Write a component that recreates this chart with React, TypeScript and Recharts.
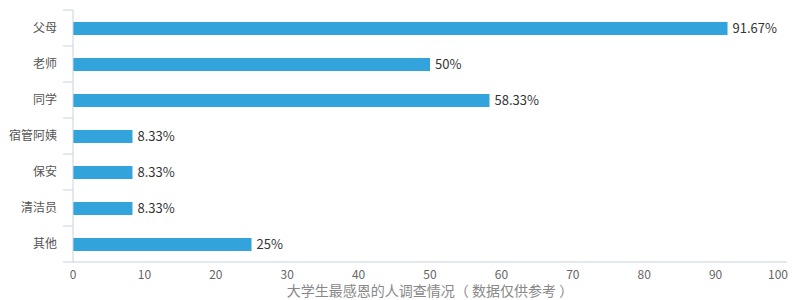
import React from 'react'
import { BarChart, Bar, XAxis, YAxis, LabelList, Label } from 'recharts'

const categories = ['父母', '老师', '同学', '宿管阿姨', '保安', '清洁员', '其他']
const values = [91.67, 50, 58.33, 8.33, 8.33, 8.33, 25]
const xTicks = [0, 10, 20, 30, 40, 50, 60, 70, 80, 90, 100]

const data = categories.map((name, i) => ({ name, value: values[i] }))

const FONT = '"Microsoft YaHei", "Noto Sans CJK SC", sans-serif'
const AXIS = '#c7d2e0'
const WIDTH = 800
const HEIGHT = 300
const MARGIN = { top: 10, right: 13, left: 0, bottom: 0 }
const X_HEIGHT = 38
const BAND = (HEIGHT - MARGIN.top - MARGIN.bottom - X_HEIGHT) / categories.length

// 类目轴的刻度线画在分隔处，不在中间
const YTick = (props: any) => {
  const { x, y, payload, index } = props
  const axisX = x + 16
  return (
    <g>
      <line x1={axisX - 10} x2={axisX} y1={y - BAND / 2} y2={y - BAND / 2} stroke={AXIS} />
      {index === categories.length - 1 && (
        <line x1={axisX - 10} x2={axisX} y1={y + BAND / 2} y2={y + BAND / 2} stroke={AXIS} />
      )}
      <text x={x} y={y} dy="0.35em" textAnchor="end" fill="#555" fontSize={12} fontFamily={FONT}>
        {payload.value}
      </text>
    </g>
  )
}

// 最后一个刻度标签往里收，不超出画布
const XTick = (props: any) => {
  const { x, y, payload, index } = props
  const last = index === xTicks.length - 1
  return (
    <text
      x={last ? x + 1 : x}
      y={y}
      dy="0.71em"
      textAnchor={last ? 'end' : 'middle'}
      fill="#666"
      fontSize={12}
      fontFamily={FONT}
    >
      {payload.value}
    </text>
  )
}

const App = () => {
  return (
    <div style={{ position: 'absolute', left: 0, top: 0 }}>
      <BarChart width={WIDTH} height={HEIGHT} data={data} layout="vertical" margin={MARGIN}>
        <XAxis
          type="number"
          domain={[0, 100]}
          ticks={xTicks}
          interval={0}
          height={X_HEIGHT}
          tickLine={false}
          axisLine={{ stroke: AXIS }}
          tick={<XTick />}
        >
          <Label
            value="大学生最感恩的人调查情况（ 数据仅供参考 ）"
            position="insideBottom"
            offset={4}
            fill="#888"
            fontSize={14}
            fontFamily={FONT}
          />
        </XAxis>
        <YAxis
          type="category"
          dataKey="name"
          width={73}
          tickLine={false}
          tickSize={8}
          tickMargin={8}
          axisLine={{ stroke: AXIS }}
          tick={<YTick />}
        />
        <Bar dataKey="value" fill="#33a3dc" barSize={13} isAnimationActive={false}>
          <LabelList
            dataKey="value"
            position="right"
            offset={5}
            formatter={(v: any) => `${v}%`}
            fill="#333"
            fontSize={13}
            fontFamily={FONT}
          />
        </Bar>
      </BarChart>
    </div>
  )
}

export default App
